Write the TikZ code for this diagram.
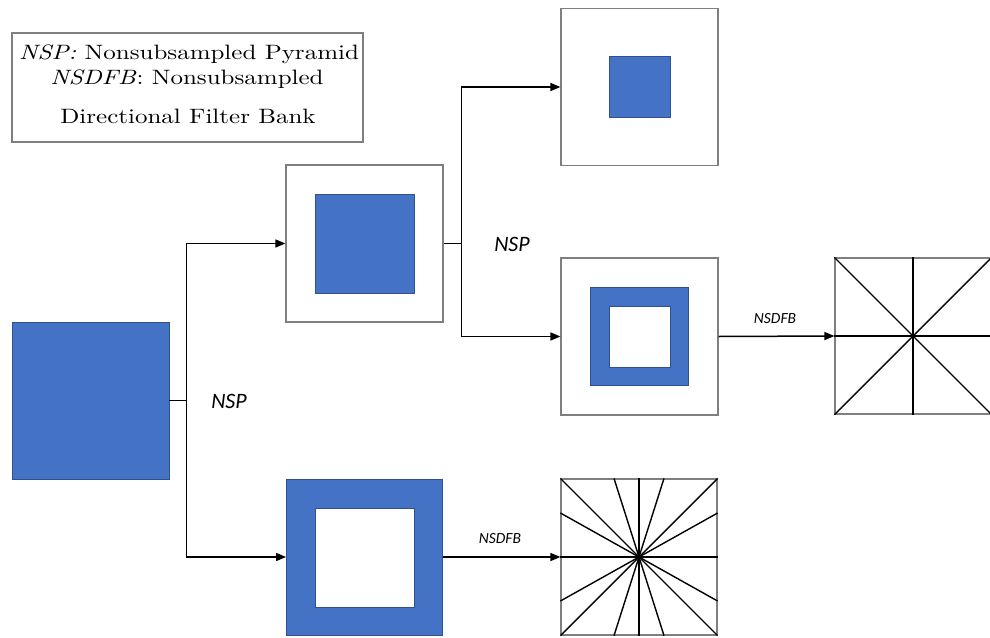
\documentclass[tikz,border=0pt]{standalone}
\usepackage{fontspec}
\usepackage{graphicx}
\newfontfamily\lblfont{Carlito}
\usetikzlibrary{arrows.meta,calc}
\definecolor{fillblue}{HTML}{4472C4}
\definecolor{edgeblue}{HTML}{2F528F}
\definecolor{boxgray}{HTML}{7F7F7F}
\tikzset{
  frame/.style={draw=boxgray,line width=1.2pt,fill=white,inner sep=0pt,minimum size=#1},
  bluesq/.style={draw=edgeblue,line width=0.8pt,fill=fillblue,inner sep=0pt,minimum size=#1},
  holesq/.style={draw=edgeblue,line width=0.8pt,fill=white,inner sep=0pt,minimum size=#1},
  link/.style={draw=black,line width=1.5pt},
  arr/.style={link,-{Triangle[length=10pt,width=8pt]}},
  ray/.style={draw=black,line width=1.4pt},
  nsp/.style={font=\lblfont\itshape\fontsize{22}{26}\selectfont},
  dfb/.style={font=\lblfont\itshape\fontsize{15.5}{18}\selectfont},
  legend/.style={font=\normalsize,anchor=base,inner sep=0pt}
}
% legend lines are set at 10pt and enlarged, keeping the heavier 10pt design
\newcommand{\legendline}[1]{\scalebox{2.5}[2.08]{#1}}
\begin{document}
\begin{tikzpicture}[x=1pt,y=-1pt]
\useasboundingbox (0,0) rectangle (990,637);

% legend
\draw[boxgray,line width=1.2pt] (12,33) rectangle (363,142);
\node[legend] (l1) at (189,59) {\legendline{\textit{NSP:} Nonsubsampled Pyramid}};
\node[legend] (l2) at (187,84) {\legendline{\textit{NSDFB}: Nonsubsampled}};
\node[legend] (l3) at (188,123) {\legendline{Directional Filter Bank}};

% input image
\node[bluesq=157pt] (in) at (90.5,400.5) {};

% first pyramid level: lowpass and bandpass
\node[frame=157pt] (A) at (364.5,243.5) {};
\node[bluesq=99pt] (Ain) at (A.center) {};
\node[bluesq=156pt] (B) at (364.5,557) {};
\node[holesq=99pt] (Bin) at (364.5,558) {};

% second pyramid level
\node[frame=157pt] (C) at (639.5,87) {};
\node[bluesq=61pt] (Cin) at (C.center) {};
\node[frame=157pt] (D) at (639.5,336.5) {};
\node[bluesq=98pt] (Dmid) at (D.center) {};
\node[holesq=61pt] (Din) at (D.center) {};

% directional subbands
\node[frame=156pt] (E) at (913,336) {};
\node[frame=156pt] (F) at (639,557) {};

% eight wedges
\draw[ray] (E.north west) -- (E.south east);
\draw[ray] (E.south west) -- (E.north east);
\draw[ray] (E.north) -- (E.south);
\draw[ray] (E.west) -- (E.east);

% sixteen wedges
\draw[ray] (F.north west) -- (F.south east);
\draw[ray] (F.south west) -- (F.north east);
\draw[ray] (F.north) -- (F.south);
\draw[ray] (F.west) -- (F.east);
\draw[ray] ($(F.north)+(-25,0)$) -- ($(F.south)+(25,0)$);
\draw[ray] ($(F.north)+(25,0)$) -- ($(F.south)+(-25,0)$);
\draw[ray] ($(F.west)+(0,-44)$) -- ($(F.east)+(0,44)$);
\draw[ray] ($(F.west)+(0,44)$) -- ($(F.east)+(0,-44)$);

% connectors
\draw[link] (in.east) -- ++(17,0) coordinate (j1);
\draw[arr] (j1) |- (A.west);
\draw[arr] (j1) |- (B.west);
\draw[link] (A.east) -- ++(18,0) coordinate (j2);
\draw[arr] (j2) |- (C.west);
\draw[arr] (j2) |- (D.west);
\draw[arr] (D.east) -- (E.west);
\draw[arr] (B.east) -- (F.west);

% labels
\node[nsp] (nsp1) at (229,401) {NSP};
\node[nsp] (nsp2) at (512,244) {NSP};
\node[dfb] (dfb1) at (775,319) {NSDFB};
\node[dfb] (dfb2) at (500,539) {NSDFB};
\end{tikzpicture}
\end{document}
